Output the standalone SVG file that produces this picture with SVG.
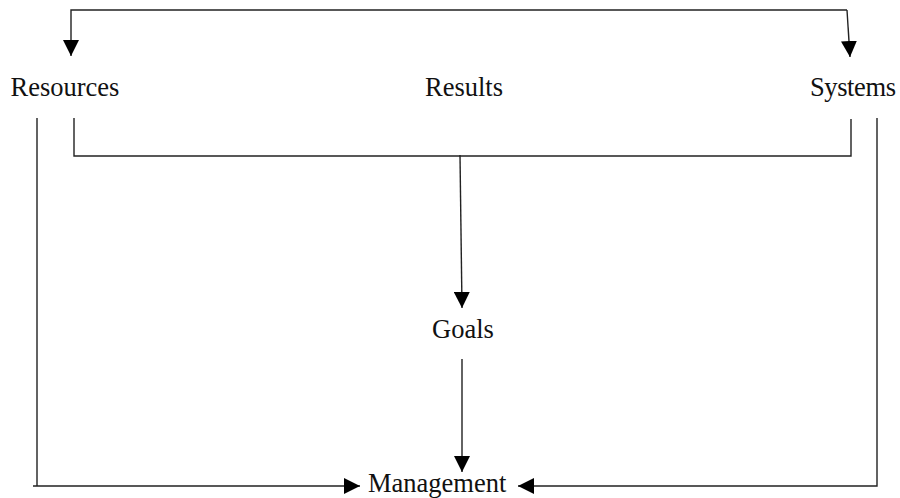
<svg xmlns="http://www.w3.org/2000/svg" width="900" height="498" viewBox="0 0 900 498">
<style>
.lbl{font-family:"Liberation Serif","Times New Roman",serif;font-size:26.5px;fill:#111}
.c{fill:none;stroke:#222;stroke-width:1.4}
</style>
<defs>
<marker id="ah" markerUnits="userSpaceOnUse" markerWidth="16" markerHeight="16" viewBox="0 0 16 16" refX="16" refY="8" orient="auto">
<path d="M0,0 L16,8 L0,16 z" fill="#000"/>
</marker>
</defs>
<rect width="900" height="498" fill="#fff"/>
<g id="connectors">
<path class="c" d="M847,10 L71,10 L71,56" marker-end="url(#ah)"/>
<path class="c" d="M847,10 L850,57" marker-end="url(#ah)"/>
<path class="c" d="M74,118 L74,156 L851,156 L851,119"/>
<path class="c" d="M460,155 L462,308" marker-end="url(#ah)"/>
<path class="c" d="M462,359 L462,472" marker-end="url(#ah)"/>
<path class="c" d="M37,118 L37,486 L33,486 L360,486" marker-end="url(#ah)"/>
<path class="c" d="M877,118 L877,486 L518,486" marker-end="url(#ah)"/>
</g>
<g id="resources"><text class="lbl" x="10.5" y="96">Resources</text></g>
<g id="results"><text class="lbl" x="464" y="96" text-anchor="middle">Results</text></g>
<g id="systems"><text class="lbl" x="810" y="96" textLength="86">Systems</text></g>
<g id="goals"><text class="lbl" x="463" y="338" text-anchor="middle">Goals</text></g>
<g id="management"><text class="lbl" x="368" y="491.5">Management</text></g>
</svg>
